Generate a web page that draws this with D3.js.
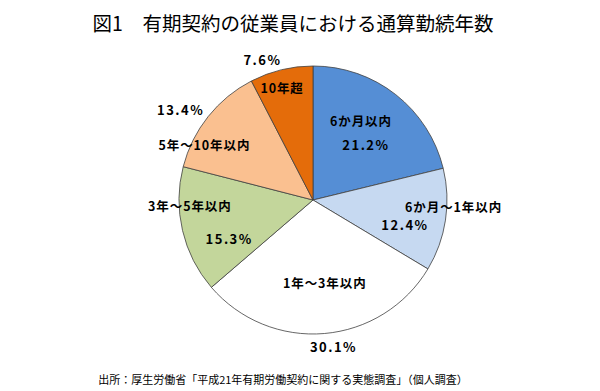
<!DOCTYPE html>
<html><head><meta charset="utf-8">
<script src="https://cdn.jsdelivr.net/npm/d3@7"></script>
<style>
html,body{margin:0;padding:0;background:#fff;}
svg{display:block;}
text{font-family:"Noto Sans CJK JP","Noto Sans",sans-serif;fill:#000;}
</style></head>
<body>
<svg id="chart" width="600" height="391"></svg>
<script>
// ---- data ----
const categories = ["6か月以内", "6か月～1年以内", "1年～3年以内", "3年～5年以内", "5年～10年以内", "10年超"];
const values = [21.2, 12.4, 30.1, 15.3, 13.4, 7.6];
const valueLabels = ["21.2%", "12.4%", "30.1%", "15.3%", "13.4%", "7.6%"];
const colors = ["#558ED5", "#C6D9F1", "#FFFFFF", "#C3D69B", "#FAC090", "#E46C0A"];
const titleText = "図1　有期契約の従業員における通算勤続年数";
const sourceText = "出所：厚生労働省「平成21年有期労働契約に関する実態調査」（個人調査）";

// label placement: angle offset (deg) from slice mid-angle and radius as fraction of pie radius
const catLabelAngle = [-7.2, -6.0, -3.3, 10.6, -11.5, -1.7];
const catLabelRadius = [0.695, 1.05, 0.62, 0.92, 0.91, 0.87];
const valLabelAngle = [5.7, 6.2, -3.1, -11.8, -4.3, -6.1];
const valLabelRadius = [0.57, 0.71, 1.105, 0.69, 1.195, 1.115];

const svg = d3.select("#chart");
const cx = 313, cy = 200, R = 134;

svg.append("text").attr("x", 293).attr("y", 22)
  .attr("text-anchor", "middle").attr("dominant-baseline", "central")
  .style("font-size", "19.5px").style("font-weight", "400")
  .text(titleText);

const pie = d3.pie().sort(null).value(d => d)(values);
const arc = d3.arc().innerRadius(0).outerRadius(R);
const g = svg.append("g").attr("transform", `translate(${cx},${cy})`);

g.selectAll("path").data(pie).join("path")
  .attr("d", arc)
  .attr("fill", (d, i) => colors[i])
  .attr("stroke", "#404040")
  .attr("stroke-width", 0.8);

function polar(d, da, rf) {
  const a = (d.startAngle + d.endAngle) / 2 + da * Math.PI / 180;
  const r = rf * R;
  return [Math.sin(a) * r, -Math.cos(a) * r];
}

g.selectAll("text.cat").data(pie).join("text")
  .attr("class", "cat")
  .attr("transform", (d, i) => `translate(${polar(d, catLabelAngle[i], catLabelRadius[i])})`)
  .attr("text-anchor", "middle").attr("dominant-baseline", "central")
  .style("font-size", "12.5px").style("font-weight", "bold").style("letter-spacing", "0.9px")
  .text((d, i) => categories[i]);

g.selectAll("text.val").data(pie).join("text")
  .attr("class", "val")
  .attr("transform", (d, i) => `translate(${polar(d, valLabelAngle[i], valLabelRadius[i])})`)
  .attr("text-anchor", "middle").attr("dominant-baseline", "central")
  .style("font-size", "13px").style("font-weight", "bold").style("letter-spacing", "1.5px")
  .text((d, i) => valueLabels[i]);

svg.append("text").attr("x", 283).attr("y", 379)
  .attr("text-anchor", "middle").attr("dominant-baseline", "central")
  .style("font-size", "11px")
  .text(sourceText);
</script>
</body></html>
